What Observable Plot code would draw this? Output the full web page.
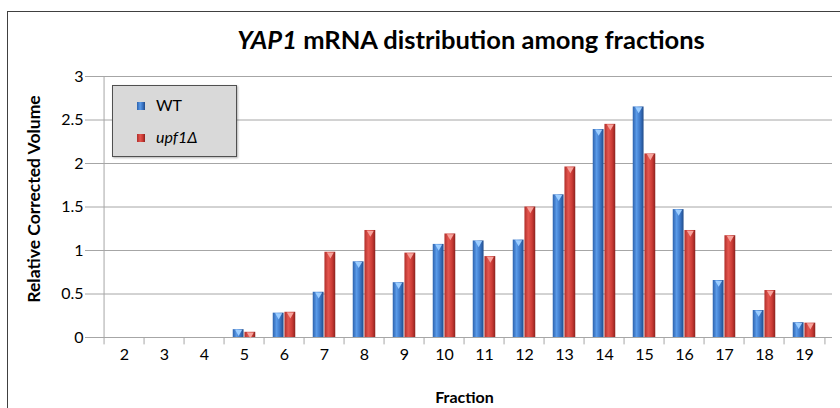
<!DOCTYPE html>
<html><head><meta charset="utf-8">
<script src="https://cdn.jsdelivr.net/npm/d3@7"></script>
<script src="https://cdn.jsdelivr.net/npm/@observablehq/plot@0.6"></script>
<style>
body{margin:0;background:#fff;font-family:Lato,"Open Sans",sans-serif;}
#wrap{position:relative;width:840px;height:408px;overflow:hidden;}
#border{position:absolute;left:7px;top:11px;width:900px;height:500px;border:1.5px solid #404040;box-sizing:border-box;}
#chart{position:absolute;left:0;top:0;}
#title{position:absolute;left:96px;width:750px;top:25px;text-align:center;font-weight:bold;font-size:25.5px;line-height:28px;color:#000;}
#ylab{position:absolute;left:34px;top:199px;transform:translate(-50%,-50%) rotate(-90deg);white-space:nowrap;font-weight:bold;font-size:17.5px;line-height:20px;color:#000;}
#legend{position:absolute;left:112px;top:85px;width:125px;height:72px;background:#d9d9d9;border:1px solid #505050;box-sizing:border-box;box-shadow:1px 1px 2px rgba(0,0,0,0.3);font-size:16px;color:#000;}
.item{position:absolute;left:24px;height:20px;line-height:20px;}
.sw{display:inline-block;width:8px;height:8px;vertical-align:middle;margin-right:11px;position:relative;top:-1px;}
</style></head>
<body>
<div id="wrap">
  <div id="border"></div>
  <div id="chart"></div>
  <div id="title"><i>YAP1</i> mRNA distribution among fractions</div>
  <div id="ylab"></div>
  <div id="legend">
    <div class="item" style="top:9px"><span class="sw" id="swBlue"></span><span id="lab0"></span></div>
    <div class="item" style="top:41px"><span class="sw" id="swRed"></span><i id="lab1"></i></div>
  </div>
</div>
<script>
const fractions = [2,3,4,5,6,7,8,9,10,11,12,13,14,15,16,17,18,19];
const wtValues   = [0,0,0,0.09,0.28,0.52,0.87,0.63,1.07,1.11,1.12,1.64,2.39,2.65,1.47,0.655,0.31,0.17];
const upf1Values = [0,0,0,0.06,0.29,0.98,1.23,0.97,1.19,0.93,1.50,1.96,2.45,2.11,1.23,1.17,0.54,0.165];
const yTicks = [0,0.5,1,1.5,2,2.5,3];
const seriesNames = ["WT","upf1Δ"];
const yLabel = "Relative Corrected Volume";
const xLabel = "Fraction";

document.getElementById("lab0").textContent = seriesNames[0];
document.getElementById("lab1").textContent = seriesNames[1];
document.getElementById("ylab").textContent = yLabel;
document.getElementById("swBlue").style.background = "linear-gradient(90deg,#2d62ad,#5a9ae8 40%,#3a74c4 70%,#214c8a)";
document.getElementById("swRed").style.background = "linear-gradient(90deg,#b02e2a,#e3564f 40%,#cc3b35 70%,#8c221e)";

const W = 840, H = 408, mL = 96, mR = 8, mT = 76, mB = 71;
const bw = (W - mL - mR) / fractions.length;
const barW = 11.7;
const rows = fractions.map((f, i) => ({fraction: f, wt: wtValues[i], upf1: upf1Values[i]}));
const grid = "#a6a6a6";

const plot = Plot.plot({
  width: W, height: H,
  marginLeft: mL, marginRight: mR, marginTop: mT, marginBottom: mB,
  style: {fontFamily: "Lato, 'Open Sans', sans-serif", fontSize: "16px", color: "#000", background: "transparent", overflow: "visible"},
  x: {type: "band", domain: fractions, padding: 0},
  y: {domain: [0, 3]},
  marks: [
    Plot.gridY(yTicks, {stroke: grid, strokeOpacity: 1}),
    Plot.ruleY([0], {stroke: grid}),
    Plot.ruleX([fractions[0]], {y1: 0, y2: 3, dx: -bw / 2, stroke: grid}),
    Plot.ruleX(fractions, {y1: 0, y2: -0.085, dx: -bw / 2, stroke: grid}),
    Plot.ruleX([fractions[fractions.length - 1]], {y1: 0, y2: -0.085, dx: bw / 2, stroke: grid}),
    Plot.barY(rows.filter(d => d.wt > 0), {x: "fraction", y: "wt", fill: "url(#gBlue)", insetLeft: bw / 2 - barW, insetRight: bw / 2}),
    Plot.barY(rows.filter(d => d.upf1 > 0), {x: "fraction", y: "upf1", fill: "url(#gRed)", insetLeft: bw / 2, insetRight: bw / 2 - barW}),
    Plot.dot(rows.filter(d => d.wt > 0), {x: "fraction", y: "wt", symbol: "triangle", rotate: 180, r: 2.6, fill: "#9ccdff", dx: -barW / 2, dy: 2.2}),
    Plot.dot(rows.filter(d => d.upf1 > 0), {x: "fraction", y: "upf1", symbol: "triangle", rotate: 180, r: 2.6, fill: "#f7a39c", dx: barW / 2, dy: 2.2}),
    Plot.axisY(yTicks, {tickSize: 11, tickPadding: 2, tickFormat: d => String(d), stroke: grid, fill: "#000", fontSize: 16, label: null}),
    Plot.axisX({tickSize: 0, tickPadding: 11, fill: "#000", fontSize: 16,
      label: xLabel, labelAnchor: "center", labelOffset: 65, labelArrow: "none"})
  ]
});

const svgNS = "http://www.w3.org/2000/svg";
const defs = document.createElementNS(svgNS, "defs");
defs.innerHTML = `
<linearGradient id="gBlue" x1="0" x2="1" y1="0" y2="0">
  <stop offset="0" stop-color="#2d62ad"/><stop offset="0.35" stop-color="#5a9ae8"/>
  <stop offset="0.7" stop-color="#3a74c4"/><stop offset="1" stop-color="#214c8a"/>
</linearGradient>
<linearGradient id="gRed" x1="0" x2="1" y1="0" y2="0">
  <stop offset="0" stop-color="#b02e2a"/><stop offset="0.35" stop-color="#e3564f"/>
  <stop offset="0.7" stop-color="#cc3b35"/><stop offset="1" stop-color="#8c221e"/>
</linearGradient>`;
plot.insertBefore(defs, plot.firstChild);

d3.select(plot).selectAll('[aria-label="x-axis label"] text')
  .style("font-size", "16px").style("font-weight", "bold");

document.getElementById("chart").appendChild(plot);
</script>
</body></html>
